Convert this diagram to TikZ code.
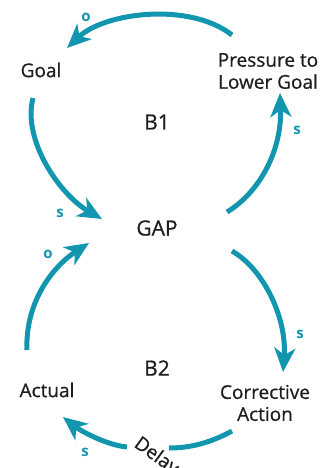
\documentclass[tikz,border=0pt]{standalone}
\usepackage{fontspec}
\setmainfont{Open Sans}
\newfontfamily\varfont{Open Sans}[FakeBold=0.7]
\usetikzlibrary{arrows.meta}
\definecolor{loopteal}{RGB}{18,150,175}
\definecolor{ink}{RGB}{30,30,30}
\begin{document}
\begin{tikzpicture}[x=1pt,y=-1pt,
  var/.style={text=ink,font=\varfont\fontsize{19}{22}\selectfont,align=center,inner sep=0pt},
  big/.style={var,font=\varfont\fontsize{21}{24}\selectfont},
  lbl/.style={text=loopteal,font=\bfseries\fontsize{15}{15}\selectfont,inner sep=0pt},
  link/.style={draw=loopteal,line width=5pt},
  arr/.style={link,-{Stealth[length=24pt,width=21pt,inset=7pt]}}]
\useasboundingbox (0,0) rectangle (326,468);
% variables
\node[var] (goal) at (41,70) {Goal};
\node[var] (press) at (268,71) {Pressure to\\Lower Goal};
\node[big] (gap) at (157,228) {GAP};
\node[var] (actual) at (47,390) {Actual};
\node[var] (corr) at (265,403) {Corrective\\Action};
\node[big] (b1) at (157,122) {B1};
\node[big] (b2) at (157,368) {B2};
\node[var,anchor=base west,rotate=-36] (delay) at (133,446) {Delay};
% connector end points
\coordinate (t1) at (232,35);  \coordinate (h1) at (67,48);
\coordinate (t2) at (33,98);   \coordinate (h2) at (102,219);
\coordinate (t3) at (227,212); \coordinate (h3) at (280,93);
\coordinate (t4) at (232,251); \coordinate (h4) at (283,372);
\coordinate (t5) at (27,350);  \coordinate (h5) at (89,243);
\coordinate (t6) at (232,431); \coordinate (d6) at (169,448);
\coordinate (d7) at (127,447); \coordinate (h7) at (63,417);
% connectors
\draw[arr] (t1) .. controls (190,2) and (105,12) .. (h1);
\draw[arr] (t2) .. controls (22,140) and (60,195) .. (h2);
\draw[arr] (t3) .. controls (260,192) and (282,150) .. (h3);
\draw[arr] (t4) .. controls (265,270) and (287,320) .. (h4);
\draw[arr] (t5) .. controls (25,300) and (55,265) .. (h5);
\draw[link] (t6) .. controls (210,443) and (190,448) .. (d6);
\draw[arr] (d7) .. controls (105,445) and (78,429) .. (h7);
% polarity labels
\node[lbl] (o1) at (86,17) {o};
\node[lbl] (s2) at (60,213) {s};
\node[lbl] (s3) at (297,130) {s};
\node[lbl] (s4) at (300,334) {s};
\node[lbl] (o5) at (48,254) {o};
\node[lbl] (s7) at (85,452) {s};
\end{tikzpicture}
\end{document}
